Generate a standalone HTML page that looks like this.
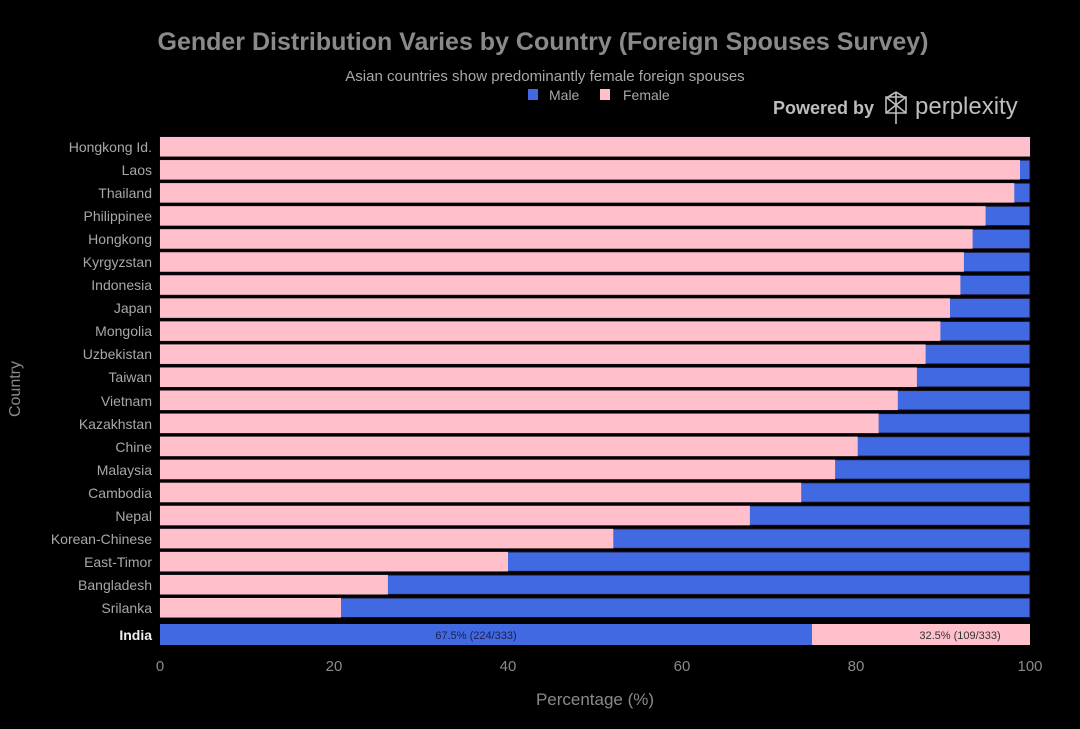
<!DOCTYPE html>
<html><head><style>
body{margin:0;background:#000;width:1080px;height:724px;overflow:hidden;font-family:"Liberation Sans",sans-serif;}
</style></head><body>
<svg width="1080" height="724" xmlns="http://www.w3.org/2000/svg" font-family="Liberation Sans, sans-serif">
<rect width="1080" height="724" fill="#000"/>
<text x="543" y="50" text-anchor="middle" font-size="25" font-weight="bold" fill="#8a8a8a">Gender Distribution Varies by Country (Foreign Spouses Survey)</text>
<text x="545" y="81" text-anchor="middle" font-size="15" fill="#a8a8a8">Asian countries show predominantly female foreign spouses</text>
<rect x="528" y="89" width="10" height="11" fill="#4169e1"/>
<text x="549" y="100" font-size="14" fill="#a8a8a8">Male</text>
<rect x="600" y="89" width="10" height="11" fill="#ffc0cb"/>
<text x="623" y="100" font-size="14" fill="#a8a8a8">Female</text>
<text x="773" y="114" font-size="18" font-weight="bold" fill="#bdbdbd">Powered by</text>
<g stroke="#bdbdbd" stroke-width="1.6" fill="none"><path d="M896 92 v32 M886 97 h20 v16 h-20 z M886 97 l20 16 M906 97 l-20 16 M896 92 l-8 5 M896 92 l8 5"/></g>
<text x="915" y="114" font-size="24" fill="#bdbdbd">perplexity</text>

<g stroke="#1a1020" stroke-width="1" fill="#4169e1">
<rect x="160" y="137" width="870" height="19.5"/>
<rect x="160" y="160.05" width="870" height="19.5"/>
<rect x="160" y="183.1" width="870" height="19.5"/>
<rect x="160" y="206.15" width="870" height="19.5"/>
<rect x="160" y="229.2" width="870" height="19.5"/>
<rect x="160" y="252.25" width="870" height="19.5"/>
<rect x="160" y="275.3" width="870" height="19.5"/>
<rect x="160" y="298.35" width="870" height="19.5"/>
<rect x="160" y="321.4" width="870" height="19.5"/>
<rect x="160" y="344.45" width="870" height="19.5"/>
<rect x="160" y="367.5" width="870" height="19.5"/>
<rect x="160" y="390.55" width="870" height="19.5"/>
<rect x="160" y="413.6" width="870" height="19.5"/>
<rect x="160" y="436.65" width="870" height="19.5"/>
<rect x="160" y="459.7" width="870" height="19.5"/>
<rect x="160" y="482.75" width="870" height="19.5"/>
<rect x="160" y="505.8" width="870" height="19.5"/>
<rect x="160" y="528.85" width="870" height="19.5"/>
<rect x="160" y="551.9" width="870" height="19.5"/>
<rect x="160" y="574.95" width="870" height="19.5"/>
<rect x="160" y="598" width="870" height="19.5"/>
</g>
<g fill="#ffc0cb">
<rect x="160" y="137" width="870" height="19.5"/>
<rect x="160" y="160.05" width="860" height="19.5"/>
<rect x="160" y="183.1" width="854.3" height="19.5"/>
<rect x="160" y="206.15" width="825.6" height="19.5"/>
<rect x="160" y="229.2" width="812.6" height="19.5"/>
<rect x="160" y="252.25" width="803.9" height="19.5"/>
<rect x="160" y="275.3" width="800.4" height="19.5"/>
<rect x="160" y="298.35" width="790" height="19.5"/>
<rect x="160" y="321.4" width="780.4" height="19.5"/>
<rect x="160" y="344.45" width="765.6" height="19.5"/>
<rect x="160" y="367.5" width="756.9" height="19.5"/>
<rect x="160" y="390.55" width="737.8" height="19.5"/>
<rect x="160" y="413.6" width="718.6" height="19.5"/>
<rect x="160" y="436.65" width="697.7" height="19.5"/>
<rect x="160" y="459.7" width="675.1" height="19.5"/>
<rect x="160" y="482.75" width="641.2" height="19.5"/>
<rect x="160" y="505.8" width="589.9" height="19.5"/>
<rect x="160" y="528.85" width="453.3" height="19.5"/>
<rect x="160" y="551.9" width="348" height="19.5"/>
<rect x="160" y="574.95" width="227.9" height="19.5"/>
<rect x="160" y="598" width="181" height="19.5"/>
</g>
<g font-size="14" fill="#a8a8a8" text-anchor="end">
<text x="152" y="152">Hongkong Id.</text>
<text x="152" y="175">Laos</text>
<text x="152" y="198">Thailand</text>
<text x="152" y="221">Philippinee</text>
<text x="152" y="244">Hongkong</text>
<text x="152" y="267">Kyrgyzstan</text>
<text x="152" y="290">Indonesia</text>
<text x="152" y="313">Japan</text>
<text x="152" y="336">Mongolia</text>
<text x="152" y="359">Uzbekistan</text>
<text x="152" y="382">Taiwan</text>
<text x="152" y="406">Vietnam</text>
<text x="152" y="429">Kazakhstan</text>
<text x="152" y="452">Chine</text>
<text x="152" y="475">Malaysia</text>
<text x="152" y="498">Cambodia</text>
<text x="152" y="521">Nepal</text>
<text x="152" y="544">Korean-Chinese</text>
<text x="152" y="567">East-Timor</text>
<text x="152" y="590">Bangladesh</text>
<text x="152" y="613">Srilanka</text>
</g>
<rect x="160" y="624" width="870" height="21" fill="#ffc0cb"/>
<rect x="160" y="624" width="652" height="21" fill="#4169e1"/>
<text x="152" y="640" text-anchor="end" font-size="14" font-weight="bold" fill="#eee">India</text>
<text x="476" y="639" text-anchor="middle" font-size="11" fill="#1a2050">67.5% (224/333)</text>
<text x="960" y="639" text-anchor="middle" font-size="11" fill="#333">32.5% (109/333)</text>

<text transform="translate(20,389) rotate(-90)" text-anchor="middle" font-size="16" fill="#8a8a8a">Country</text>
<text x="595" y="705" text-anchor="middle" font-size="17" fill="#8a8a8a">Percentage (%)</text>
<g font-size="15" fill="#8a8a8a" text-anchor="middle">
<text x="160" y="671">0</text><text x="334" y="671">20</text><text x="508" y="671">40</text><text x="682" y="671">60</text><text x="856" y="671">80</text><text x="1030" y="671">100</text>
</g>
</svg>
</body></html>
